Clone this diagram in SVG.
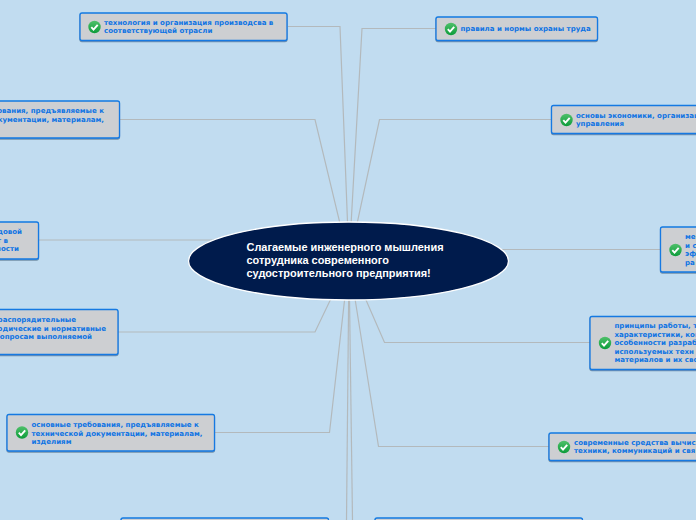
<svg xmlns="http://www.w3.org/2000/svg" width="696" height="520" viewBox="0 0 696 520">
<defs>
<linearGradient id="g" x1="0" y1="0" x2="0" y2="1"><stop offset="0" stop-color="#4fc06a"/><stop offset="1" stop-color="#0c9c3a"/></linearGradient>
<filter id="s" x="-5%" y="-10%" width="110%" height="125%"><feDropShadow dx="0" dy="1" stdDeviation="0.7" flood-color="#30506a" flood-opacity="0.55"/></filter>
<g id="chk"><circle r="6.2" fill="url(#g)"/><path d="M-3.2 0.2L-1 2.6L3.2 -2.2" fill="none" stroke="#fff" stroke-width="1.9"/></g>
</defs>
<style>
.b{fill:#cdcfd2;stroke:#1279e2;stroke-width:1.3;filter:url(#s)}
.t{font:bold 7.05px "DejaVu Sans",Verdana,sans-serif;fill:#0f74e4}
.e{text-anchor:end}
.c{fill:none;stroke:#b3b9bc;stroke-width:1.2}
.m{font:bold 10.95px "Liberation Sans",Arial,sans-serif;fill:#fff}
</style>
<rect width="696" height="520" fill="#c1dcf0"/>
<g id="connectors">
<polyline class="c" points="288,26.500 340,26.500 349,261"/>
<polyline class="c" points="120,119.500 315,119.500 349,261"/>
<polyline class="c" points="39,240 349,240"/>
<polyline class="c" points="118,332 315,332 349,261"/>
<polyline class="c" points="215,432.500 329.500,432.500 349,261"/>
<polyline class="c" points="349,261 346.500,520"/>
<polyline class="c" points="349,261 352.500,520"/>
<polyline class="c" points="436,28.500 362,28.500 349,261"/>
<polyline class="c" points="551,119.500 379.500,119.500 349,261"/>
<polyline class="c" points="660,249.500 349,249.500"/>
<polyline class="c" points="590,342.500 384.500,342.500 349,261"/>
<polyline class="c" points="549,446.500 378.500,446.500 349,261"/>
</g>
<g id="center"><ellipse cx="348.500" cy="261" rx="160" ry="39" fill="#001b4c" stroke="#fff" stroke-width="1.300"/>
<text class="m"><tspan x="246.500" y="251">Слагаемые инженерного мышления</tspan><tspan x="246.500" y="264">сотрудника современного</tspan><tspan x="246.500" y="277">судостроительного предприятия!</tspan></text></g>
<g id="n1"><rect class="b" x="80" y="13" width="207" height="27.500" rx="2"/><use href="#chk" x="94.500" y="27"/><text class="t"><tspan x="104" y="24.500">технология и организация производсва в</tspan><tspan x="104" y="33">соответствующей отрасли</tspan></text></g>
<g id="n2"><rect class="b" x="-20" y="101" width="139.500" height="37" rx="2"/><text class="t e"><tspan x="104" y="113">ования, предъявляемые к</tspan><tspan x="104" y="122">окументации, материалам,</tspan></text></g>
<g id="n3"><rect class="b" x="-20" y="222" width="58.500" height="37" rx="2"/><text class="t e"><tspan x="22" y="234">довой</tspan><tspan x="8" y="242.500">т в</tspan><tspan x="19" y="251">ности</tspan></text></g>
<g id="n4"><rect class="b" x="-20" y="309.500" width="138" height="45" rx="2"/><text class="t e"><tspan x="76" y="322">распорядительные</tspan><tspan x="106" y="330.500">одические и нормативные</tspan><tspan x="92" y="339">опросам выполняемой</tspan></text></g>
<g id="n5"><rect class="b" x="7" y="414.500" width="207.500" height="36.500" rx="2"/><use href="#chk" x="22" y="432.500"/><text class="t"><tspan x="31.500" y="427">основные требования, предъявляемые к</tspan><tspan x="31.500" y="435.500">технической документации, материалам,</tspan><tspan x="31.500" y="444">изделиям</tspan></text></g>
<g id="n6"><rect class="b" x="121" y="518" width="207.500" height="20" rx="2"/></g>
<g id="n7"><rect class="b" x="375" y="518" width="207.500" height="20" rx="2"/></g>
<g id="n8"><rect class="b" x="436" y="17" width="161.500" height="23.500" rx="2"/><use href="#chk" x="451" y="29"/><text class="t"><tspan x="460.500" y="31">правила и нормы охраны труда</tspan></text></g>
<g id="n9"><rect class="b" x="551.500" y="105.500" width="165" height="28" rx="2"/><use href="#chk" x="566.500" y="120"/><text class="t"><tspan x="576" y="118">основы экономики, организац</tspan><tspan x="576" y="126">управления</tspan></text></g>
<g id="n10"><rect class="b" x="660.500" y="227" width="60" height="45" rx="2"/><use href="#chk" x="675.500" y="250"/><text class="t"><tspan x="685" y="239">ме</tspan><tspan x="685" y="247.500">и с</tspan><tspan x="685" y="256">эф</tspan><tspan x="685" y="264.500">ра</tspan></text></g>
<g id="n11"><rect class="b" x="590" y="316.500" width="130" height="53" rx="2"/><use href="#chk" x="605" y="343"/><text class="t"><tspan x="614.500" y="328">принципы работы, т</tspan><tspan x="614.500" y="336.500">характеристики, кон</tspan><tspan x="614.500" y="345">особенности разраб</tspan><tspan x="614.500" y="353.500">используемых техн</tspan><tspan x="614.500" y="362">материалов и их сво</tspan></text></g>
<g id="n12"><rect class="b" x="549" y="433" width="170" height="27.500" rx="2"/><use href="#chk" x="564" y="447"/><text class="t"><tspan x="574" y="445">современные средства вычисл</tspan><tspan x="574" y="453">техники, коммуникаций и свя</tspan></text></g>
</svg>
